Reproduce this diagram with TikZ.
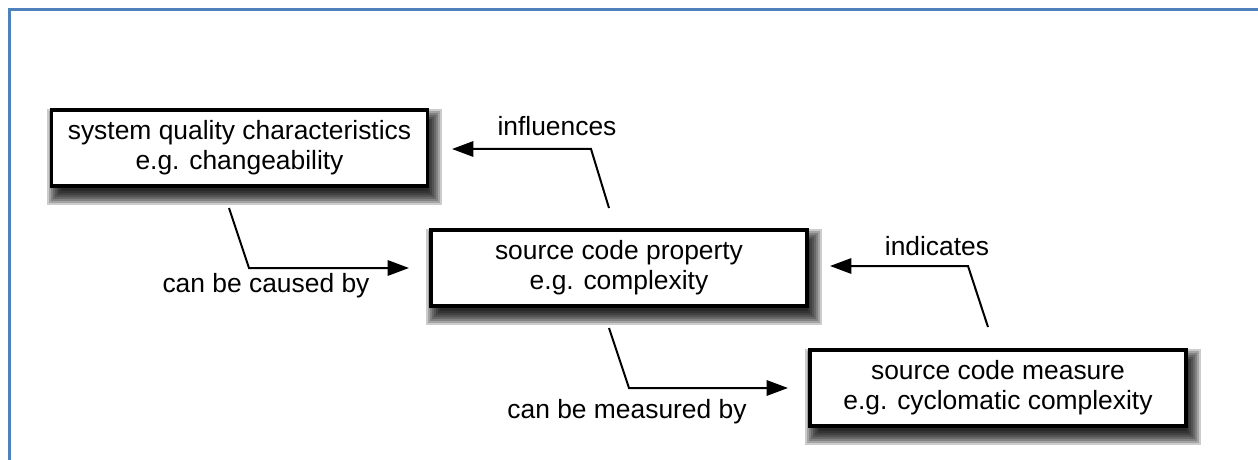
\documentclass[tikz,border=0pt]{standalone}
\usepackage{fontspec}
\setmainfont{Liberation Sans}
\usetikzlibrary{arrows.meta,calc,backgrounds}

% soft drop shadow behind a node: stacked translucent rectangles
\newcommand\boxshadow[1]{%
  \foreach \s in {-6,-4,...,8}{%
    \fill[black, opacity=0.2]
      ($(#1.south west)+(5-\s,9+\s)$) rectangle ($(#1.north east)+(5+\s,9-\s)$);
  }%
}

\begin{document}
\begin{tikzpicture}[x=0.75pt,y=-0.75pt,
  every node/.style={font=\fontsize{19.8pt}{22.5pt}\selectfont},
  box/.style={draw=black, line width=2.6pt, fill=white, align=center,
    minimum width=282pt, minimum height=57pt, inner sep=0pt},
  conn/.style={line width=1.5pt, -{Triangle[length=16pt,width=11.5pt]}},
  lbl/.style={anchor=base, inner sep=0pt}]

  \useasboundingbox (0,0) rectangle (1258,460);

  % the three concepts
  \node[box] (qual) at (239.5,148) {system quality characteristics\\e.g. changeability};
  \node[box] (prop) at (619,268) {source code property\\e.g. complexity};
  \node[box] (meas) at (998,388) {source code measure\\e.g. cyclomatic complexity};

  % page, blue frame and shadows underneath
  \begin{pgfonlayer}{background}
    \fill[white] (0,0) rectangle (1258,460);
    \draw[line width=2.3pt, color={rgb,255:red,79;green,129;blue,189}]
      (9.5,460) -- (9.5,9.5) -- (1258,9.5);
    \boxshadow{qual}
    \boxshadow{prop}
    \boxshadow{meas}
  \end{pgfonlayer}

  % bend points and free ends of the connectors
  \coordinate (inS) at (609,208);
  \coordinate (inK) at (591,149);
  \coordinate (inE) at (452,149);

  \coordinate (caS) at (229,208);
  \coordinate (caK) at (249,268);
  \coordinate (caE) at (409,268);

  \coordinate (ndS) at (988,327);
  \coordinate (ndK) at (968,266);
  \coordinate (ndE) at (830,266);

  \coordinate (meS) at (609,328);
  \coordinate (meK) at (629,388);
  \coordinate (meE) at (788,388);

  \draw[conn] (inS) -- (inK) -- (inE);
  \draw[conn] (caS) -- (caK) -- (caE);
  \draw[conn] (ndS) -- (ndK) -- (ndE);
  \draw[conn] (meS) -- (meK) -- (meE);

  % connector labels
  \node[lbl] (inL) at (557,136) {influences};
  \node[lbl] (caL) at (266,292) {can be caused by};
  \node[lbl] (ndL) at (937,255) {indicates};
  \node[lbl] (meL) at (627,418) {can be measured by};
\end{tikzpicture}
\end{document}
